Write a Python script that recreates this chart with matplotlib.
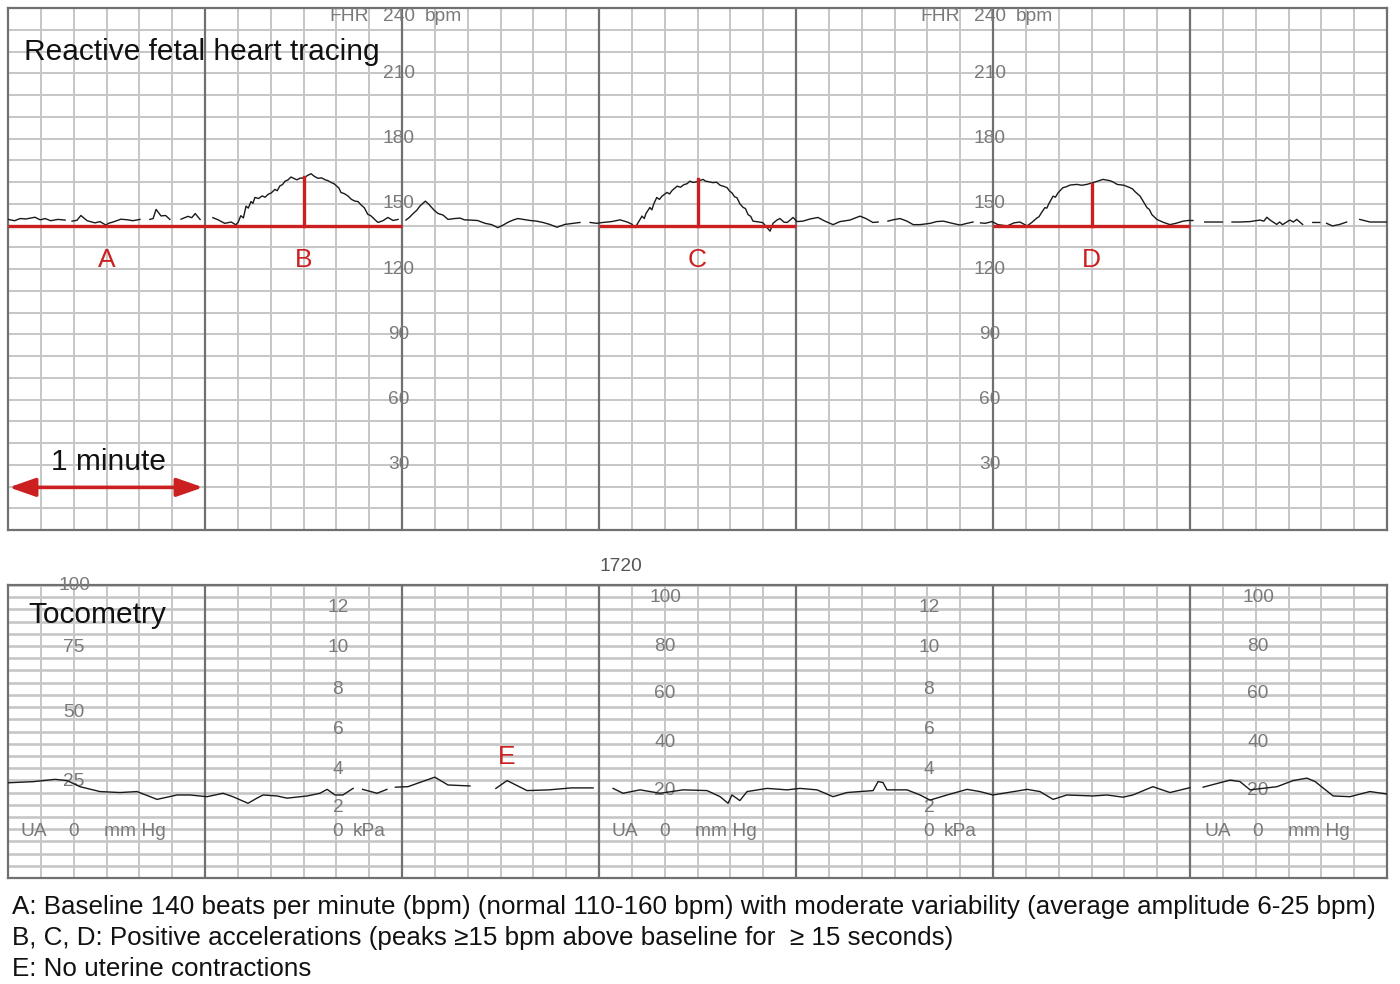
import numpy as np
import matplotlib
matplotlib.use("Agg")
import matplotlib.pyplot as plt
from matplotlib.ticker import MultipleLocator

plt.rcParams['font.family'] = ['Liberation Sans', 'DejaVu Sans']

nan = float('nan')

# ---------------- data ----------------
# Fetal heart rate trace: time (s), bpm  (nan = short signal gap)
fhr_time_s = [0, 2.0, 3.7, 5.5, 8.2, 9.8, 11.3, 13.0, 15.2, 17.4, 18.3, 19.5, 21.0, 22.2, 24.1, 26.5,
              28.0, 29.8, 30.6, 32.0, 34.4, 36.5, 38.0, 40.2, 42.0, 43.2, 44.2, 45.1, 46.6, 48.0,
              49.3, 50.5, 52.7, 54.8, 56.0, 57.0, 58.5, 59.8, 62.4, 64.0, 66.0, 68.0, 69.4, 70.1,
              70.9, 71.7, 72.5, 73.2, 74.0, 74.6, 75.2, 76.3, 77.4, 78.3, 79.2, 80.2, 81.3, 82.0,
              82.8, 83.6, 84.4, 85.3, 86.2, 87.1, 88.0, 89.0, 90.2, 91.2, 92.3, 93.3, 94.4, 95.5,
              96.6, 97.5, 98.4, 99.3, 100.2, 100.8, 101.4, 102.5, 103.6, 104.6, 105.7, 106.6,
              107.5, 108.5, 109.6, 110.4, 111.2, 112.0, 112.7, 114.2, 115.7, 117.3, 118.8, 120.0,
              121.2, 122.3, 123.4, 124.5, 125.5, 127.1, 128.0, 128.6, 129.8, 131.0, 132.5, 134.0,
              136.0, 137.7, 139.0, 140.7, 143.0, 145.3, 147.3, 149.2, 150.8, 152.3, 154.0, 155.3,
              157.0, 159.0, 161.0, 162.9, 165.0, 167.2, 169.6, 172.1, 174.2, 175.8, 177.3, 179.3,
              181.2, 183.9, 186.4, 188.8, 190.0, 191.0, 192.2, 193.1, 193.8, 194.3, 195.5, 196.1,
              196.7, 197.6, 198.4, 199.2, 200.7, 201.5, 202.2, 203.8, 204.8, 205.9, 206.8, 207.7,
              208.6, 209.5, 210.6, 211.7, 212.4, 213.2, 214.7, 215.8, 216.9, 218.0, 219.0, 219.8,
              220.5, 221.3, 222.0, 222.9, 223.9, 224.6, 225.4, 226.2, 226.9, 228.4, 229.9, 231.2,
              232.1, 233.0, 234.2, 235.1, 236.4, 237.3, 238.2, 239.1, 240.3, 242.1, 244.3, 246.7,
              248.8, 251.3, 253.4, 256.4, 259.5, 261.3, 263.4, 265.0, 266.7, 268.0, 269.5, 271.7,
              273.8, 275.7, 277.8, 280.9, 282.8, 284.9, 287.6, 290.0, 292.1, 293.9, 295.0, 296.2,
              297.6, 299.7, 301.5, 304.3, 306.4, 308.2, 310.4, 311.9, 313.4, 314.0, 314.6, 315.8,
              316.4, 317.0, 318.3, 319.0, 319.8, 321.3, 322.3, 323.5, 325.6, 327.0, 328.6, 330.0,
              331.1, 333.5, 335.6, 336.6, 337.8, 339.9, 341.7, 342.5, 343.3, 344.8, 346.0, 346.9,
              347.6, 348.4, 349.9, 351.8, 353.9, 355.7, 357.9, 359.4, 360.9, 362.5, 364.5, 367.0,
              369.8, 371.6, 372.8, 375.2, 378.3, 381.3, 382.5, 383.4, 384.3, 384.9, 386.4, 387.3,
              388.2, 390.4, 391.5, 392.5, 394.3, 395.8, 397.4, 399.5, 400.4, 401.6, 403.4, 405.6,
              407.7, 409.4, 411.7, 414.8, 420.0]
fhr_bpm = [142.8, 142.2, 143.2, 143.0, 143.8, 142.6, 143.2, 142.2, 142.8, 142.5, nan, 142.0, 142.4, 144.6, 142.2, 141.2,
           141.8, 140.2, 141.0, 141.6, 142.9, 142.6, 142.2, 142.8, nan, 142.8, 143.2, 147.4, 144.4, 144.6,
           142.8, nan, 142.9, 144.2, 143.6, 145.5, 142.8, nan, 143.6, 142.6, 141.0, 141.6, 140.3, 141.5,
           144.5, 143.5, 148.9, 148.0, 151.0, 150.2, 152.9, 152.4, 153.6, 153.0, 154.3, 155.0, 156.6, 156.0,
           158.2, 158.8, 160.4, 161.0, 162.3, 161.6, 161.0, 161.8, 161.8, 163.0, 163.8, 162.6, 161.7, 161.9,
           161.0, 160.6, 159.8, 159.2, 158.0, 157.2, 155.2, 154.6, 153.5, 152.0, 151.2, 151.0,
           149.5, 148.2, 145.1, 144.6, 143.5, 142.3, 141.4, 142.2, 143.7, 142.3, 142.8, nan,
           142.5, 143.8, 145.5, 147.0, 149.0, 151.2, 150.0, 149.0, 147.0, 145.5, 144.8, 142.8,
           143.2, 143.4, 142.6, 142.5, 142.3, 141.0, 140.4, 139.0, 140.2, 141.5, 142.6, 143.2,
           142.8, 142.3, 142.0, 141.4, 140.5, 139.2, 140.5, 141.0, 141.4, nan, 141.4, 141.0,
           141.4, 141.8, 142.6, 141.5, 140.6, 139.0, 142.0, 144.3, 143.2, 145.5, 148.3, 147.2,
           150.0, 152.9, 152.0, 153.5, 155.2, 154.5, 156.0, 158.1, 157.6, 158.8, 159.2, 160.4,
           159.8, 160.0, 160.6, 161.2, 160.4, 160.2, 159.7, 159.9, 158.5, 158.0, 157.4, 155.8,
           155.0, 153.2, 152.8, 150.0, 148.3, 147.8, 145.0, 144.2, 142.0, 141.7, 141.3, 139.0,
           137.4, 141.0, 142.5, 143.2, 141.5, 141.4, 142.5, 143.7, 141.8, 142.0, 143.0, 143.7,
           142.0, 140.4, 141.8, 142.5, 144.3, 143.2, 141.4, 141.6, nan, 142.0, 142.6, 143.2,
           142.0, 140.4, 140.4, 141.0, 141.8, 142.0, 141.0, 140.2, 141.0, 141.6, nan, 141.2,
           141.0, 141.8, 140.4, 139.8, 141.2, 141.6, 139.8, 141.5, 143.5, 144.0, 145.5, 148.2,
           148.0, 150.0, 153.5, 153.0, 155.0, 157.4, 157.8, 158.6, 158.9, 158.5, 158.9, 159.5,
           160.0, 161.2, 160.6, 160.0, 158.9, 158.5, 157.4, 156.8, 155.5, 153.5, 150.5, 148.2,
           147.4, 145.0, 142.8, 141.5, 140.4, 141.0, 142.0, 142.3, 142.3, nan, 141.6, 141.6,
           141.6, nan, 141.6, 141.6, 141.8, 142.5, 142.0, 143.8, 142.6, 142.0, 140.5, 141.6,
           140.4, 142.5, 141.6, 142.8, 140.5, nan, 141.4, 141.4, nan, 141.0, 139.8, 140.5,
           141.6, nan, 142.8, 141.6, 141.6]

# Tocometry trace: time (s), mm Hg
toco_time_s = [0, 7.6, 14.3, 18.0, 21.9, 28.0, 34.1, 39.3, 45.4, 51.5, 55.4, 60.6, 65.5, 68.5, 73.1,
               75.8, 77.7, 81.9, 85.0, 91.1, 95.0, 97.2, 99.6, 102.0, 105.1, 106.5, 108.0, 112.4,
               115.4, 116.6, 118.0, 121.8, 130.0, 134.0, 140.7, 144.6, 148.6, 152.0, 158.1, 164.8,
               171.5, 178.2, 180.0, 184.3, 187.3, 192.5, 198.6, 205.6, 212.9, 216.9, 219.3, 220.5,
               222.9, 225.1, 231.2, 237.3, 241.2, 246.4, 251.3, 255.5, 263.5, 265.0, 266.5, 267.7,
               273.8, 277.8, 280.8, 286.0, 292.1, 296.0, 300.0, 310.4, 314.3, 318.3, 322.5, 330.5,
               334.7, 339.6, 342.6, 348.7, 353.9, 360.0, 362.0, 364.0, 372.2, 375.2, 378.3, 386.5,
               391.4, 395.6, 398.1, 403.6, 408.7, 414.8, 420.0]
toco_mmhg = [24.0, 24.45, 25.4, 24.9, 22.4, 20.4, 20.0, 20.4, 17.2, 19.0, 19.0, 18.3, 19.7, 18.3, 15.6,
             17.7, 19.0, 18.6, 17.7, 18.6, 19.7, 21.3, 19.0, 19.0, 21.7, nan, 21.3, 19.7,
             21.3, nan, 22.2, 22.4, 26.3, 23.1, 22.7, nan, 21.7, 24.9, 20.8, 21.1,
             21.9, 21.9, nan, 21.7, 19.7, 21.1, 19.7, 21.1, 20.8, 18.3, 15.6, 19.0,
             16.7, 20.4, 21.7, 21.1, 21.7, 21.1, 18.3, 20.0, 20.8, 24.5, 24.1, 21.1,
             21.1, 19.0, 16.9, 19.0, 21.3, 20.4, 19.0, 21.3, 20.4, 17.2, 19.0, 18.6,
             19.0, 18.1, 19.0, 22.4, 20.0, 22.0, nan, 22.2, 25.1, 24.5, 21.1, 22.4,
             24.9, 25.9, 24.5, 18.6, 18.3, 20.4, 19.4]

baseline_bpm = 140
baseline_segments_s = [(0, 60), (60, 120), (180, 240), (300, 360)]
accel_peaks_s = [90, 210, 330]
accel_peak_bpm = [162.3, 161.2, 159.0]
segment_labels = ['A', 'B', 'C', 'D']
segment_label_s = [30, 90, 210, 330]

fhr_scale_vals = [210, 180, 150, 120, 90, 60, 30]
fhr_scale_s = [119, 299]

mmhg_block1_vals = ['100', '75', '50', '25']
mmhg_block1_y = [105, 79.6, 52.6, 24.7]
mmhg_vals = ['100', '80', '60', '40', '20']
mmhg_y = [100, 80, 60.6, 40.4, 21.0]
kpa_vals = ['12', '10', '8', '6', '4', '2']
kpa_y = [95.7, 79.5, 62.3, 45.9, 29.5, 14.0]

captions = [
    "A: Baseline 140 beats per minute (bpm) (normal 110-160 bpm) with moderate variability (average amplitude 6-25 bpm)",
    "B, C, D: Positive accelerations (peaks \u226515 bpm above baseline for  \u2265 15 seconds)",
    "E: No uterine contractions",
]

# ---------------- styling ----------------
W, H = 1400, 984
RED = '#cc2020'
MINOR = '#c6c6c6'
MAJOR = '#707070'
LABEL = '#7a7a7a'
LFS = 13.8

fig = plt.figure(figsize=(W / 100, H / 100), dpi=100)
ax1 = fig.add_axes([8 / W, 1 - 530 / H, 1379 / W, 522 / H])
ax2 = fig.add_axes([8 / W, 1 - 878 / H, 1379 / W, 293 / H])


def style_grid(ax, ystep, hlw):
    ax.set_xlim(0, 420)
    ax.xaxis.set_major_locator(MultipleLocator(60))
    ax.xaxis.set_minor_locator(MultipleLocator(10))
    ax.yaxis.set_major_locator(MultipleLocator(ystep))
    ax.grid(axis='x', which='minor', color=MINOR, lw=1.4, zorder=0)
    ax.grid(axis='y', which='major', color=MINOR, lw=hlw, zorder=0)
    ax.set_axisbelow(True)
    for t in range(60, 420, 60):
        ax.axvline(t, color=MAJOR, lw=1.6, zorder=2)
    ax.tick_params(which='both', length=0, labelbottom=False, labelleft=False)
    for s in ax.spines.values():
        s.set_color(MAJOR)
        s.set_linewidth(1.6)
        s.set_zorder(2)


# ---- top: FHR ----
ax1.set_ylim(0, 240)
style_grid(ax1, 10, 1.4)
ax1.plot(fhr_time_s, fhr_bpm, color='#1a1a1a', lw=1.0, zorder=4)

for (a, b) in baseline_segments_s:
    ax1.plot([a, b], [baseline_bpm, baseline_bpm], color=RED, lw=2.4, zorder=5, solid_capstyle='butt')
for t, p in zip(accel_peaks_s, accel_peak_bpm):
    ax1.plot([t, t], [baseline_bpm, p], color=RED, lw=2.4, zorder=5)
for lab, t in zip(segment_labels, segment_label_s):
    ax1.text(t, 124.3, lab, color=RED, fontsize=19, ha='center', va='center', zorder=6)

for xs in fhr_scale_s:
    for v in fhr_scale_vals:
        ax1.text(xs, v, str(v), color=LABEL, fontsize=LFS, ha='center', va='center', zorder=3)
    ax1.text(xs, 236.2, '240', color=LABEL, fontsize=LFS, ha='center', va='center', zorder=3)
    ax1.text(xs - 15, 236.2, 'FHR', color=LABEL, fontsize=LFS, ha='center', va='center', zorder=3)
    ax1.text(xs + 13.5, 236.2, 'bpm', color=LABEL, fontsize=LFS, ha='center', va='center', zorder=3)

ax1.text(4.9, 219.7, 'Reactive fetal heart tracing', fontsize=21.5, color='#111111',
         ha='left', va='center', zorder=6)
ax1.text(30.6, 31.2, '1 minute', fontsize=21.5, color='#111111', ha='center', va='center', zorder=6)
ax1.annotate('', xy=(59.4, 19.6), xytext=(0.3, 19.6),
             arrowprops=dict(arrowstyle='<|-|>,head_length=1.0,head_width=0.35', color=RED, lw=2.6,
                             mutation_scale=16, shrinkA=0, shrinkB=0), zorder=6)

# ---- bottom: tocometry ----
ax2.set_ylim(-15, 105)
style_grid(ax2, 5, 1.9)
ax2.plot(toco_time_s, toco_mmhg, color='#1a1a1a', lw=1.0, zorder=4)

for base in [0, 180, 360]:
    vals = mmhg_block1_vals if base == 0 else mmhg_vals
    ys = mmhg_block1_y if base == 0 else mmhg_y
    xc = 20.1 + base + (0.6 if base == 360 else 0)
    for v, y in zip(vals, ys):
        ax2.text(xc, y, v, color=LABEL, fontsize=LFS, ha='center', va='center', zorder=3)
    ax2.text(xc, 4.0, '0', color=LABEL, fontsize=LFS, ha='center', va='center', zorder=3)
    ax2.text(xc - 12.2, 4.0, 'UA', color=LABEL, fontsize=LFS, ha='center', va='center', zorder=3)
    ax2.text(xc + 18.6, 4.0, 'mm Hg', color=LABEL, fontsize=LFS, ha='center', va='center', zorder=3)

for base in [0, 180]:
    xc = 100.5 + base
    for v, y in zip(kpa_vals, kpa_y):
        ax2.text(xc, y, v, color=LABEL, fontsize=LFS, ha='center', va='center', zorder=3)
    ax2.text(xc, 4.0, '0', color=LABEL, fontsize=LFS, ha='center', va='center', zorder=3)
    ax2.text(xc + 9.4, 4.0, 'kPa', color=LABEL, fontsize=LFS, ha='center', va='center', zorder=3)

ax2.text(186.7, 112.4, '1720', color='#555555', fontsize=LFS, ha='center', va='center', clip_on=False)
ax2.text(6.1, 92.7, 'Tocometry', fontsize=21.5, color='#111111', ha='left', va='center', zorder=6)
ax2.text(152, 34.6, 'E', color=RED, fontsize=19, ha='center', va='center', zorder=6)

# ---- captions ----
for i, line in enumerate(captions):
    fig.text(12 / W, 1 - (907 + 31 * i) / H, line, fontsize=18.7, color='#111111',
             ha='left', va='center', family=['Liberation Sans', 'DejaVu Sans'])

fig.savefig('out.png', dpi=100, facecolor='white')
